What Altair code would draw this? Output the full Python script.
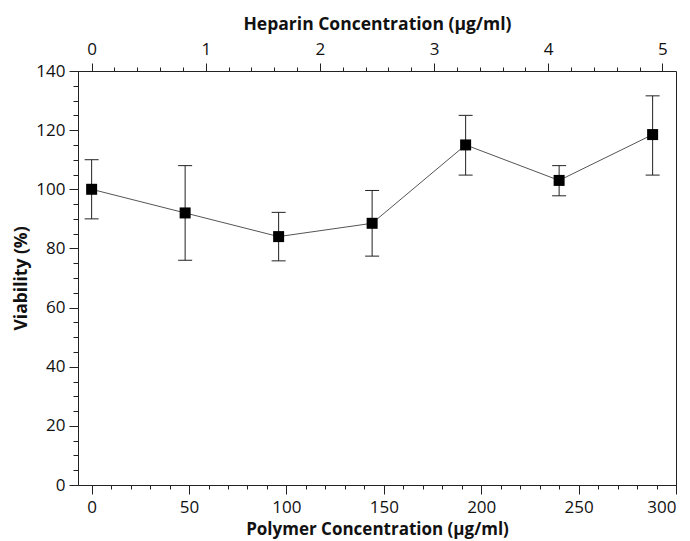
import altair as alt
import pandas as pd

# ---- data ----
polymer = [0, 48, 96, 144, 192, 240, 288]            # µg/ml
viability = [100, 92, 84, 88.5, 115, 103, 118.5]     # %
err_low = [90, 76, 75.8, 77.4, 104.8, 97.8, 104.8]
err_high = [110, 108, 92.2, 99.6, 125, 108, 131.6]

polymer_ticks = [0, 50, 100, 150, 200, 250, 300]
polymer_minor = list(range(0, 301, 10))
viability_ticks = [0, 20, 40, 60, 80, 100, 120, 140]
viability_minor = list(range(0, 141, 5))
heparin_ticks = [0, 1, 2, 3, 4, 5]
heparin_minor = [round(i * 0.2, 1) for i in range(0, 26)]
POLY_PER_HEP = 58.6   # polymer µg/ml per heparin µg/ml on the top axis

df = pd.DataFrame({"polymer": polymer, "viability": viability,
                   "low": err_low, "high": err_high})

FONT = "Open Sans"
xscale = alt.Scale(domain=[-7, 300], nice=False, zero=False)
yscale = alt.Scale(domain=[0, 140], nice=False, zero=False)

common = dict(domain=False, grid=False, tickColor="#222", tickWidth=1,
              labelFont=FONT, labelFontSize=17, labelColor="#111",
              titleFont=FONT, titleFontWeight="bold", titleColor="#111")

ax_bottom = alt.Axis(orient="bottom", values=polymer_ticks, tickSize=9,
                     labelPadding=5, title="Polymer Concentration (µg/ml)",
                     titlePadding=6, titleFontSize=17, **common)
ax_bottom_minor = alt.Axis(orient="bottom", values=polymer_minor, tickSize=4,
                           labels=False, title=None, **common)
ax_top = alt.Axis(orient="top",
                  values=[h * POLY_PER_HEP for h in heparin_ticks],
                  labelExpr=f"format(datum.value/{POLY_PER_HEP}, '.0f')",
                  tickSize=8, labelPadding=5,
                  title="Heparin Concentration (µg/ml)", titlePadding=7,
                  titleFontSize=17.5, **common)
ax_top_minor = alt.Axis(orient="top",
                        values=[h * POLY_PER_HEP for h in heparin_minor
                                if h * POLY_PER_HEP <= 300],
                        tickSize=4, labels=False, title=None, **common)
ax_left = alt.Axis(orient="left", values=viability_ticks, tickSize=9,
                   labelPadding=4, title="Viability (%)", titlePadding=5,
                   titleFontSize=17.5, **common)
ax_left_minor = alt.Axis(orient="left", values=viability_minor, tickSize=5,
                         labels=False, title=None, **common)

base = alt.Chart(df)

rules = base.mark_rule(color="#222", strokeWidth=1).encode(
    x=alt.X("polymer:Q", scale=xscale, axis=ax_bottom),
    y=alt.Y("low:Q", scale=yscale, axis=ax_left),
    y2="high:Q",
)
caps_low = base.mark_tick(orient="horizontal", size=14, thickness=1,
                          color="#222", opacity=1).encode(
    x=alt.X("polymer:Q", scale=xscale, axis=ax_bottom_minor),
    y=alt.Y("low:Q", scale=yscale, axis=ax_left_minor),
)
caps_high = base.mark_tick(orient="horizontal", size=14, thickness=1,
                           color="#222", opacity=1).encode(
    x=alt.X("polymer:Q", scale=xscale, axis=ax_top),
    y=alt.Y("high:Q", scale=yscale, axis=None),
)
line = base.mark_line(color="#555", strokeWidth=1).encode(
    x=alt.X("polymer:Q", scale=xscale, axis=ax_top_minor),
    y=alt.Y("viability:Q", scale=yscale, axis=None),
)
points = base.mark_square(size=121, color="black", filled=True,
                          opacity=1).encode(
    x=alt.X("polymer:Q", scale=xscale, axis=None),
    y=alt.Y("viability:Q", scale=yscale, axis=None),
)

chart = alt.layer(rules, caps_low, caps_high, line, points).resolve_axis(
    x="independent", y="independent"
).properties(
    width=598, height=414, autosize="none",
    padding={"left": 78, "top": 71, "right": 14, "bottom": 56},
    background="white",
).configure_view(stroke="#222", strokeWidth=1)

chart.save("out.html", embed_options={"renderer": "svg", "actions": False})
